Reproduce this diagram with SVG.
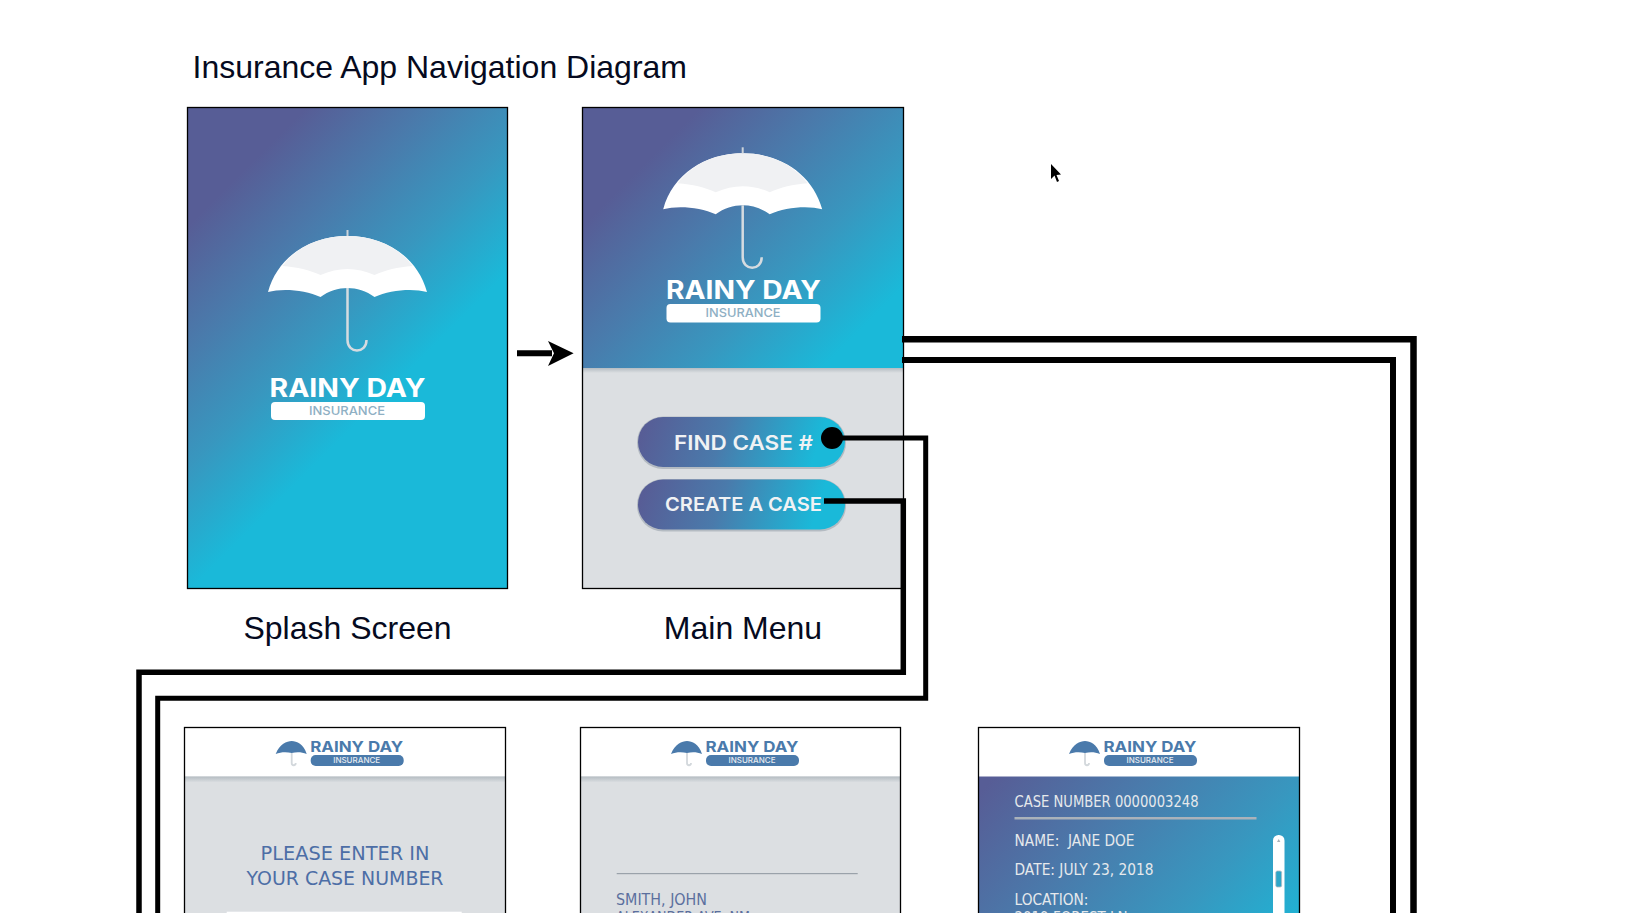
<svg xmlns="http://www.w3.org/2000/svg" xmlns:xlink="http://www.w3.org/1999/xlink" width="1636" height="913" viewBox="0 0 1636 913">
<style>
.lbl{font-family:"Liberation Sans",Arial,sans-serif;fill:#050a20}
.brand{font-family:"Inter","Open Sans",sans-serif;font-weight:700;text-anchor:middle}
.tag{font-family:"Inter","Open Sans",sans-serif;font-weight:500;text-anchor:middle}
.body{font-family:"DejaVu Sans","Noto Sans",sans-serif;white-space:pre}
.btn{font-family:"Inter","Open Sans",sans-serif;font-weight:600;fill:#f0f2f4}
.frame{fill:none;stroke:#000;stroke-width:1.3}
.wire{fill:none;stroke:#000;stroke-linejoin:miter}
.sh{fill:url(#shade)}
</style>
<defs>
<linearGradient id="g1" gradientUnits="userSpaceOnUse" x1="207" y1="207" x2="390" y2="390"><stop offset="0" stop-color="#575d96"/><stop offset=".33" stop-color="#4a7aab"/><stop offset=".66" stop-color="#3897bf"/><stop offset="1" stop-color="#1ab9d9"/></linearGradient>
<linearGradient id="g2" gradientUnits="userSpaceOnUse" x1="404" y1="404" x2="595" y2="595"><stop offset="0" stop-color="#575d96"/><stop offset=".33" stop-color="#4a7aab"/><stop offset=".66" stop-color="#3897bf"/><stop offset="1" stop-color="#1ab9d9"/></linearGradient>
<linearGradient id="g3" gradientUnits="userSpaceOnUse" x1="650" y1="410" x2="830" y2="470"><stop offset="0" stop-color="#575d96"/><stop offset=".4" stop-color="#4a7aab"/><stop offset=".9" stop-color="#1ab9d9"/></linearGradient>
<linearGradient id="g3b" gradientUnits="userSpaceOnUse" x1="650" y1="473" x2="830" y2="533"><stop offset="0" stop-color="#575d96"/><stop offset=".4" stop-color="#4a7aab"/><stop offset=".9" stop-color="#1ab9d9"/></linearGradient>
<linearGradient id="g4" gradientUnits="userSpaceOnUse" x1="1000" y1="770" x2="1260" y2="1000"><stop offset="0" stop-color="#575d96"/><stop offset=".33" stop-color="#4a7aab"/><stop offset=".66" stop-color="#3897bf"/><stop offset="1" stop-color="#1ab9d9"/></linearGradient>
<linearGradient id="shade" x1="0" y1="0" x2="0" y2="1"><stop offset="0" stop-color="#b4bcc2"/><stop offset="1" stop-color="#dcdfe2"/></linearGradient>
<g id="umb">
<path d="M-79.500 62C-70 27 -38 6 0 6C38 6 70 27 79.500 62C65 58 42 60 27 67C19 61 9 58 0 58C-9 58 -19 61 -27 67C-42 60 -65 58 -79.500 62Z" fill="#fff"/>
<path d="M-65 36C-50 16 -26 6 0 6C26 6 50 16 65 36C50 37 38 40 27 45C18 41 9 39 0 39C-9 39 -18 41 -27 45C-38 40 -50 37 -65 36Z" fill="#f0f1f3"/>
<path d="M0 0V6" stroke="#ccd3da" stroke-width="2"/>
<path d="M0 58V110C0 124 19 124 19 110" fill="none" stroke="#d5dbe0" stroke-width="2.500"/>
</g>
<g id="logo">
<path d="M-35 26C-31 16 -24 13 -19 13C-14 13 -7 16 -4 26C-9 24 -14 24 -19 25C-24 24 -30 24 -35 26Z" fill="#4a7aab"/>
<path d="M-19 25V35C-19 38 -15 38 -15 35" fill="none" stroke="#d3d8dc" stroke-width="1.800"/>
<text class="brand" x="46" y="24" font-size="15" fill="#4a7aab" textLength="93" lengthAdjust="spacingAndGlyphs">RAINY DAY</text>
<rect x="0" y="27" width="93" height="11" rx="5" fill="#4a7aab"/>
<text class="tag" x="46" y="35" font-size="7.500" fill="#e6ebf0" textLength="47" lengthAdjust="spacingAndGlyphs">INSURANCE</text>
</g>
</defs>
<rect width="1636" height="913" fill="#fff"/>
<text id="title" class="lbl" x="192.500" y="78" font-size="32">Insurance App Navigation Diagram</text>

<g id="splash">
<rect x="187.500" y="107.500" width="320" height="481" fill="url(#g1)"/>
<use xlink:href="#umb" href="#umb" x="347.500" y="230"/>
<text class="brand" x="347.500" y="396.700" font-size="25" fill="#fff" textLength="156" lengthAdjust="spacingAndGlyphs">RAINY DAY</text>
<rect x="271" y="402" width="154" height="18" rx="4" fill="#fff"/>
<text class="tag" x="347" y="415" font-size="12" fill="#8fb0c4" textLength="76" lengthAdjust="spacingAndGlyphs">INSURANCE</text>
<rect class="frame" x="187.500" y="107.500" width="320" height="481"/>
<text class="lbl" x="347.500" y="639" font-size="32" text-anchor="middle">Splash Screen</text>
</g>

<g id="main-menu">
<rect x="582.500" y="107.500" width="321" height="481" fill="#dcdfe2"/>
<rect x="582.500" y="107.500" width="321" height="261" fill="url(#g2)"/>
<rect class="sh" x="582.500" y="368" width="321" height="5"/>
<use xlink:href="#umb" href="#umb" x="742.700" y="147.300"/>
<text class="brand" x="743.500" y="298.800" font-size="25" fill="#fff" textLength="155" lengthAdjust="spacingAndGlyphs">RAINY DAY</text>
<rect x="666.500" y="304" width="154" height="18.500" rx="4" fill="#fff"/>
<text class="tag" x="743" y="316.500" font-size="12" fill="#8fb0c4" textLength="75" lengthAdjust="spacingAndGlyphs">INSURANCE</text>
<rect class="frame" x="582.500" y="107.500" width="321" height="481"/>
<text class="lbl" x="743" y="639" font-size="32" text-anchor="middle">Main Menu</text>
</g>

<g id="btn-find">
<rect x="637" y="416.500" width="209" height="52.500" rx="26" fill="#b4bbc2"/>
<rect x="638" y="417" width="207" height="50" rx="25" fill="url(#g3)"/>
<text class="btn" x="674" y="449.500" font-size="20" textLength="139" lengthAdjust="spacingAndGlyphs">FIND CASE #</text>
</g>
<g id="btn-create">
<rect x="637" y="479" width="209" height="52.500" rx="26" fill="#b4bbc2"/>
<rect x="638" y="479.500" width="207" height="50" rx="25" fill="url(#g3b)"/>
<text class="btn" x="665" y="510.500" font-size="19" textLength="157" lengthAdjust="spacingAndGlyphs">CREATE A CASE</text>
</g>

<g id="screen-enter">
<rect x="184.500" y="727.500" width="321" height="190" fill="#dcdfe2"/>
<rect x="184.500" y="727.500" width="321" height="49" fill="#fff"/>
<rect class="sh" x="184.500" y="776.500" width="321" height="6"/>
<use xlink:href="#logo" href="#logo" x="310.700" y="728"/>
<text class="body" x="345" y="860" font-size="20" fill="#4d6ea6" text-anchor="middle" textLength="169" lengthAdjust="spacingAndGlyphs">PLEASE ENTER IN</text>
<text class="body" x="345" y="884.700" font-size="20" fill="#4d6ea6" text-anchor="middle" textLength="197" lengthAdjust="spacingAndGlyphs">YOUR CASE NUMBER</text>
<rect x="226.700" y="911.700" width="235" height="4" fill="#fff"/>
<rect class="frame" x="184.500" y="727.500" width="321" height="190"/>
</g>

<g id="screen-list">
<rect x="580.500" y="727.500" width="320" height="190" fill="#dcdfe2"/>
<rect x="580.500" y="727.500" width="320" height="49" fill="#fff"/>
<rect class="sh" x="580.500" y="776.500" width="320" height="6"/>
<use xlink:href="#logo" href="#logo" x="706" y="728"/>
<rect x="616.700" y="873" width="241" height="1.200" fill="#9aa2aa"/>
<text class="body" x="616" y="905" font-size="16" fill="#5b6f9e" textLength="91" lengthAdjust="spacingAndGlyphs">SMITH, JOHN</text>
<text class="body" x="616" y="923" font-size="16" fill="#5b6f9e" textLength="134" lengthAdjust="spacingAndGlyphs">ALEXANDER AVE, NM</text>
<rect class="frame" x="580.500" y="727.500" width="320" height="190"/>
</g>

<g id="screen-case">
<rect x="978.500" y="727.500" width="321" height="190" fill="url(#g4)"/>
<rect x="978.500" y="727.500" width="321" height="49" fill="#fff"/>
<use xlink:href="#logo" href="#logo" x="1104" y="728"/>
<text class="body" x="1014.500" y="806.500" font-size="16" fill="#e6e9ec" textLength="184" lengthAdjust="spacingAndGlyphs">CASE NUMBER 0000003248</text>
<rect x="1014.500" y="817" width="242" height="2.500" fill="#aab2ba"/>
<text class="body" x="1014.500" y="845.500" font-size="16" fill="#e6e9ec" textLength="120" lengthAdjust="spacingAndGlyphs">NAME:  JANE DOE</text>
<text class="body" x="1014.500" y="875" font-size="16" fill="#e6e9ec" textLength="139" lengthAdjust="spacingAndGlyphs">DATE: JULY 23, 2018</text>
<text class="body" x="1014.500" y="904.500" font-size="16" fill="#e6e9ec" textLength="74" lengthAdjust="spacingAndGlyphs">LOCATION:</text>
<text class="body" x="1014.500" y="923" font-size="16" fill="#e6e9ec" textLength="113" lengthAdjust="spacingAndGlyphs">2019 FOREST LN</text>
<rect x="1273" y="835" width="11.500" height="90" rx="5.500" fill="#fff"/>
<path d="M1278.700 839L1277 842H1280.400Z" fill="#aab2ba"/>
<rect x="1275.800" y="871" width="5.800" height="16" rx="1.500" fill="#2fa6c8" stroke="#b4bbc2" stroke-width=".8"/>
<rect class="frame" x="978.500" y="727.500" width="321" height="190"/>
</g>

<g id="connectors">
<path d="M517 353.300H552" class="wire" stroke-width="6"/>
<path d="M548 341L573.600 353.300L548 366L554 353.300Z" fill="#000"/>
<path class="wire" stroke-width="6.500" d="M902 339.300H1413.500V913"/>
<path class="wire" stroke-width="6" d="M902 360H1393V913"/>
<circle cx="832" cy="438" r="11" fill="#000"/>
<path class="wire" stroke-width="5" d="M832 438H925.700V698.300H157.700V913"/>
<path class="wire" stroke-width="5.500" d="M824 501H903.300V672.300H139V913"/>
<path d="M1051 164L1051 179L1054.500 175.500L1057 182L1059 181L1056.500 175L1061 174.500Z" fill="#000"/>
</g>
</svg>
